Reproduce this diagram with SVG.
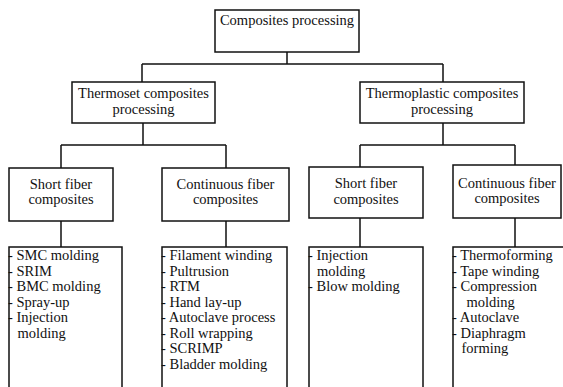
<svg xmlns="http://www.w3.org/2000/svg" width="563" height="387" viewBox="0 0 563 387">
<style>
  .box { fill: #ffffff; stroke: #111111; stroke-width: 1.5; }
  .conn { fill: none; stroke: #111111; stroke-width: 1.5; }
  text { font-family: "Liberation Serif", "Times New Roman", serif; font-size: 14.5px; fill: #111111; }
  .c { text-anchor: middle; }
</style>
<rect width="563" height="387" fill="#ffffff"/>
<g id="connectors">
  <path class="conn" d="M287,52 V64 M142,64 H443 M142,64 V82 M443,64 V82"/>
  <path class="conn" d="M143,123 V145 M61,145 H226 M61,145 V168 M226,145 V168"/>
  <path class="conn" d="M443,123 V145 M360,145 H515 M360,145 V168 M515,145 V165"/>
  <path class="conn" d="M61,221 V247 M226,221 V247 M360,218 V247 M515,218 V247"/>
</g>
<g id="root">
  <rect class="box" x="215" y="10" width="144" height="42"/>
  <text class="c" x="287" y="25">Composites processing</text>
</g>
<g id="thermoset">
  <rect class="box" x="72" y="82" width="143" height="41"/>
  <text class="c" x="143.5" y="98">Thermoset composites</text>
  <text class="c" x="143.5" y="114">processing</text>
</g>
<g id="thermoplastic">
  <rect class="box" x="360" y="82" width="164" height="41"/>
  <text class="c" x="442" y="98">Thermoplastic composites</text>
  <text class="c" x="442" y="114">processing</text>
</g>
<g id="ts-short">
  <rect class="box" x="9" y="168" width="104" height="53"/>
  <text class="c" x="61" y="188.5">Short fiber</text>
  <text class="c" x="61" y="204">composites</text>
</g>
<g id="ts-cont">
  <rect class="box" x="162" y="168" width="127" height="53"/>
  <text class="c" x="225.5" y="188.5">Continuous fiber</text>
  <text class="c" x="225.5" y="204">composites</text>
</g>
<g id="tp-short">
  <rect class="box" x="309" y="167" width="114" height="51"/>
  <text class="c" x="366" y="188">Short fiber</text>
  <text class="c" x="366" y="203.5">composites</text>
</g>
<g id="tp-cont">
  <rect class="box" x="453" y="165" width="108" height="53"/>
  <text class="c" x="507" y="187.5">Continuous fiber</text>
  <text class="c" x="507" y="203">composites</text>
</g>
<g id="ts-short-list">
  <rect class="box" x="9" y="247" width="113" height="150"/>
  <text x="8" y="260">- SMC molding</text>
  <text x="8" y="275.5">- SRIM</text>
  <text x="8" y="291">- BMC molding</text>
  <text x="8" y="306.5">- Spray-up</text>
  <text x="8" y="322">- Injection</text>
  <text x="17.5" y="337.5">molding</text>
</g>
<g id="ts-cont-list">
  <rect class="box" x="162" y="247" width="125" height="150"/>
  <text x="161" y="260">- Filament winding</text>
  <text x="161" y="275.5">- Pultrusion</text>
  <text x="161" y="291">- RTM</text>
  <text x="161" y="306.5">- Hand lay-up</text>
  <text x="161" y="322">- Autoclave process</text>
  <text x="161" y="337.5">- Roll wrapping</text>
  <text x="161" y="353">- SCRIMP</text>
  <text x="161" y="368.5">- Bladder molding</text>
</g>
<g id="tp-short-list">
  <rect class="box" x="309" y="247" width="114" height="150"/>
  <text x="308" y="260">- Injection</text>
  <text x="317" y="275.5">molding</text>
  <text x="308" y="291">- Blow molding</text>
</g>
<g id="tp-cont-list">
  <rect class="box" x="453" y="247" width="120" height="150"/>
  <text x="452" y="260">- Thermoforming</text>
  <text x="452" y="275.5">- Tape winding</text>
  <text x="452" y="291">- Compression</text>
  <text x="466.5" y="306.5">molding</text>
  <text x="452" y="322">- Autoclave</text>
  <text x="452" y="337.5">- Diaphragm</text>
  <text x="461.5" y="353">forming</text>
</g>
</svg>
